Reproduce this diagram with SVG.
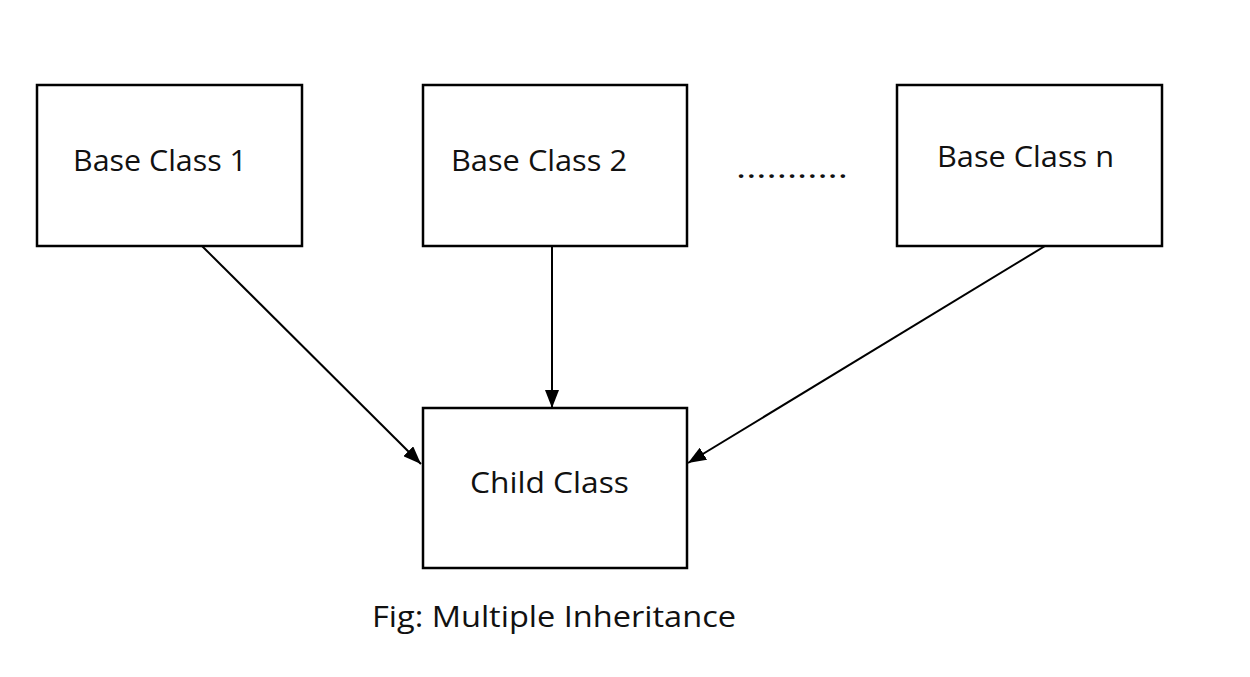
<svg xmlns="http://www.w3.org/2000/svg" width="1250" height="677" viewBox="0 0 1250 677">
<style>
.box{fill:#fff;stroke:#000;stroke-width:2.5}
.lbl{font-family:"Open Sans","Liberation Sans",sans-serif;font-size:30px;fill:#111}
.edge{stroke:#000;stroke-width:2;fill:none}
</style>
<defs>
<marker id="ah" viewBox="0 0 18 14" refX="18" refY="7" markerWidth="18" markerHeight="14" markerUnits="userSpaceOnUse" orient="auto">
<path d="M0,0 L18,7 L0,14 z" fill="#000"/>
</marker>
</defs>
<rect width="1250" height="677" fill="#fff"/>
<g id="connectors">
<line class="edge" x1="202" y1="246" x2="421" y2="464" marker-end="url(#ah)"/>
<line class="edge" x1="552" y1="246" x2="552" y2="408" marker-end="url(#ah)"/>
<line class="edge" x1="1045" y1="246" x2="688" y2="463" marker-end="url(#ah)"/>
</g>
<g id="base1">
<rect class="box" x="37" y="85" width="265" height="161"/>
<text class="lbl" x="73" y="171" textLength="174" lengthAdjust="spacingAndGlyphs">Base Class 1</text>
</g>
<g id="base2">
<rect class="box" x="423" y="85" width="264" height="161"/>
<text class="lbl" x="451" y="171" textLength="176" lengthAdjust="spacingAndGlyphs">Base Class 2</text>
</g>
<g id="dots">
<text class="lbl" x="736" y="178" textLength="112" lengthAdjust="spacingAndGlyphs">...........</text>
</g>
<g id="basen">
<rect class="box" x="897" y="85" width="265" height="161"/>
<text class="lbl" x="937" y="167" textLength="177" lengthAdjust="spacingAndGlyphs">Base Class n</text>
</g>
<g id="child">
<rect class="box" x="423" y="408" width="264" height="160"/>
<text class="lbl" x="470" y="493" textLength="159" lengthAdjust="spacingAndGlyphs">Child Class</text>
</g>
<g id="caption">
<text class="lbl" x="372" y="627" textLength="364" lengthAdjust="spacingAndGlyphs">Fig: Multiple Inheritance</text>
</g>
</svg>
